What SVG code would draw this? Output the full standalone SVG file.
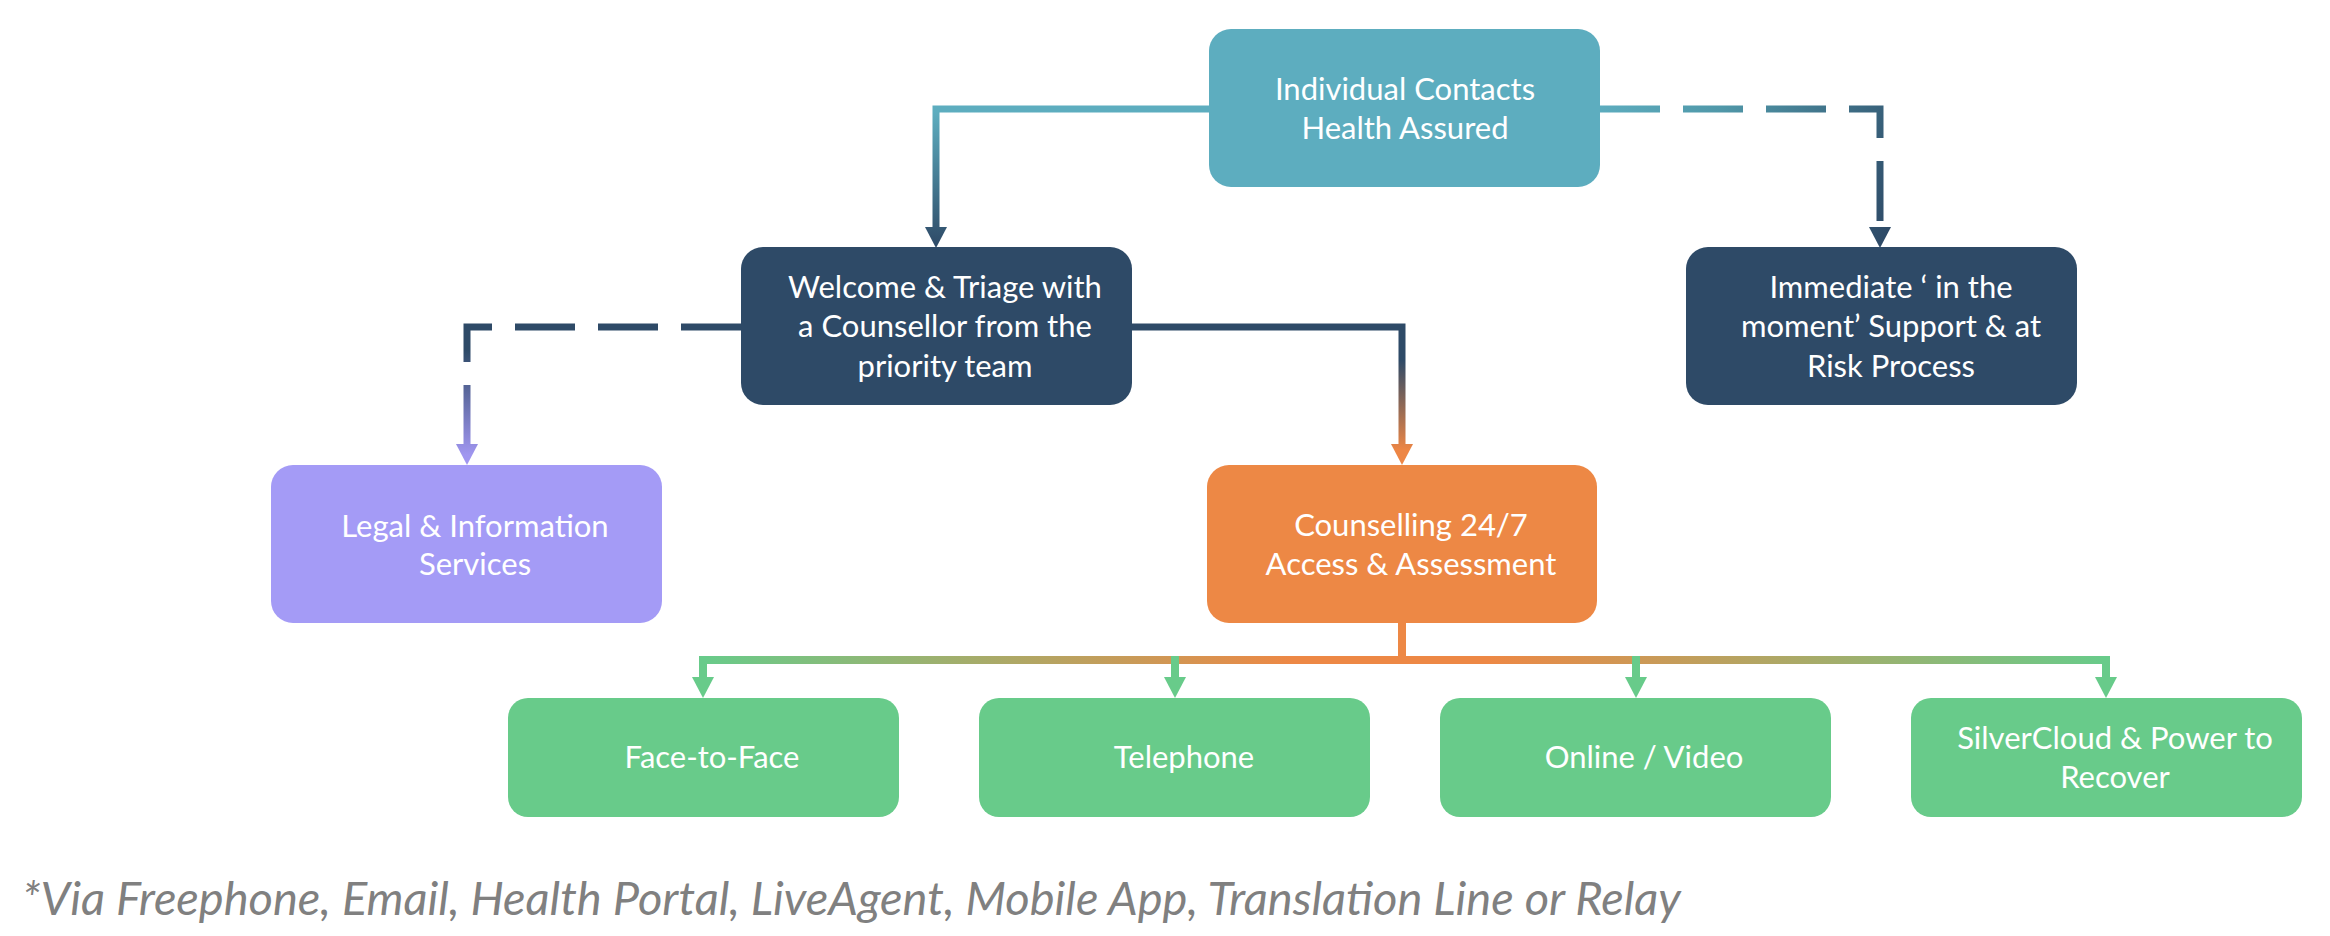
<svg xmlns="http://www.w3.org/2000/svg" width="2330" height="936" viewBox="0 0 2330 936">
<style>
.box{stroke:none}
.lbl{font-family:Lato,"Open Sans","Noto Sans",sans-serif;font-size:31px;fill:#ffffff;text-anchor:middle}
.note{font-family:Lato,"Open Sans","Noto Sans",sans-serif;font-size:47px;font-style:italic;fill:#808080}
.ln{fill:none;stroke-width:7;stroke-linejoin:miter}
.dash{stroke-dasharray:60 23}
</style>
<defs>
<linearGradient id="gTL" gradientUnits="userSpaceOnUse" x1="0" y1="112" x2="0" y2="247">
<stop offset="0" stop-color="#5DADBF"/><stop offset="1" stop-color="#2E4A67"/>
</linearGradient>
<linearGradient id="gTR" gradientUnits="userSpaceOnUse" x1="1600" y1="100" x2="1880" y2="247">
<stop offset="0" stop-color="#5DADBF"/><stop offset="0.35" stop-color="#5098A9"/><stop offset="1" stop-color="#2E4A67"/>
</linearGradient>
<linearGradient id="gWL" gradientUnits="userSpaceOnUse" x1="0" y1="350" x2="0" y2="455">
<stop offset="0" stop-color="#2E4A67"/><stop offset="1" stop-color="#A096F0"/>
</linearGradient>
<linearGradient id="gWC" gradientUnits="userSpaceOnUse" x1="0" y1="360" x2="0" y2="450">
<stop offset="0" stop-color="#2E4A67"/><stop offset="1" stop-color="#ED8645"/>
</linearGradient>
<linearGradient id="gBar" gradientUnits="userSpaceOnUse" x1="703" y1="0" x2="2106" y2="0">
<stop offset="0" stop-color="#68CB8A"/><stop offset="0.42" stop-color="#ED8845"/><stop offset="0.56" stop-color="#ED8845"/><stop offset="1" stop-color="#68CB8A"/>
</linearGradient>
</defs>

<g id="connectors">
<path class="ln" stroke="url(#gTL)" d="M1209,109 H936 V228"/>
<polygon fill="url(#gTL)" points="925,227 947,227 936,248"/>
<path class="ln dash" stroke="url(#gTR)" d="M1600,109 H1880 V227"/>
<polygon fill="url(#gTR)" points="1869,227 1891,227 1880,248"/>
<path class="ln dash" stroke="url(#gWL)" d="M741,327 H467 V445"/>
<polygon fill="url(#gWL)" points="456,444 478,444 467,465"/>
<path class="ln" stroke="url(#gWC)" d="M1132,327 H1402 V445"/>
<polygon fill="url(#gWC)" points="1391,444 1413,444 1402,465"/>
<path fill="none" stroke="#ED8845" stroke-width="8" d="M1402,622 V660"/>
<path fill="none" stroke="url(#gBar)" stroke-width="8" d="M703,660 H2106"/>
<path fill="none" stroke="#68CB8A" stroke-width="8" d="M703,656 V678 M1175,656 V678 M1636,656 V678 M2106,656 V678"/>
<polygon fill="#68CB8A" points="692,677 714,677 703,698"/>
<polygon fill="#68CB8A" points="1164,677 1186,677 1175,698"/>
<polygon fill="#68CB8A" points="1625,677 1647,677 1636,698"/>
<polygon fill="#68CB8A" points="2095,677 2117,677 2106,698"/>
</g>

<g id="node-contacts">
<rect class="box" x="1209" y="29" width="391" height="158" rx="22" fill="#5DADBF"/>
<text class="lbl" x="1405" y="100">Individual Contacts</text>
<text class="lbl" x="1405" y="139">Health Assured</text>
</g>

<g id="node-welcome">
<rect class="box" x="741" y="247" width="391" height="158" rx="22" fill="#2E4A67"/>
<text class="lbl" x="945" y="298">Welcome &amp; Triage with</text>
<text class="lbl" x="945" y="337">a Counsellor from the</text>
<text class="lbl" x="945" y="377">priority team</text>
</g>

<g id="node-immediate">
<rect class="box" x="1686" y="247" width="391" height="158" rx="22" fill="#2E4A67"/>
<text class="lbl" x="1891" y="298">Immediate ‘ in the</text>
<text class="lbl" x="1891" y="337">moment’ Support &amp; at</text>
<text class="lbl" x="1891" y="377">Risk Process</text>
</g>

<g id="node-legal">
<rect class="box" x="271" y="465" width="391" height="158" rx="22" fill="#A49BF6"/>
<text class="lbl" x="475" y="537">Legal &amp; Information</text>
<text class="lbl" x="475" y="575">Services</text>
</g>

<g id="node-counselling">
<rect class="box" x="1207" y="465" width="390" height="158" rx="22" fill="#ED8845"/>
<text class="lbl" x="1411" y="536">Counselling 24/7</text>
<text class="lbl" x="1411" y="575">Access &amp; Assessment</text>
</g>

<g id="node-face">
<rect class="box" x="508" y="698" width="391" height="119" rx="20" fill="#68CB8A"/>
<text class="lbl" x="712" y="768">Face-to-Face</text>
</g>

<g id="node-telephone">
<rect class="box" x="979" y="698" width="391" height="119" rx="20" fill="#68CB8A"/>
<text class="lbl" x="1184" y="768">Telephone</text>
</g>

<g id="node-online">
<rect class="box" x="1440" y="698" width="391" height="119" rx="20" fill="#68CB8A"/>
<text class="lbl" x="1644" y="768">Online / Video</text>
</g>

<g id="node-silvercloud">
<rect class="box" x="1911" y="698" width="391" height="119" rx="20" fill="#68CB8A"/>
<text class="lbl" x="2115" y="749">SilverCloud &amp; Power to</text>
<text class="lbl" x="2115" y="788">Recover</text>
</g>

<text class="note" x="22" y="915">*Via Freephone, Email, Health Portal, LiveAgent, Mobile App, Translation Line or Relay</text>
</svg>
